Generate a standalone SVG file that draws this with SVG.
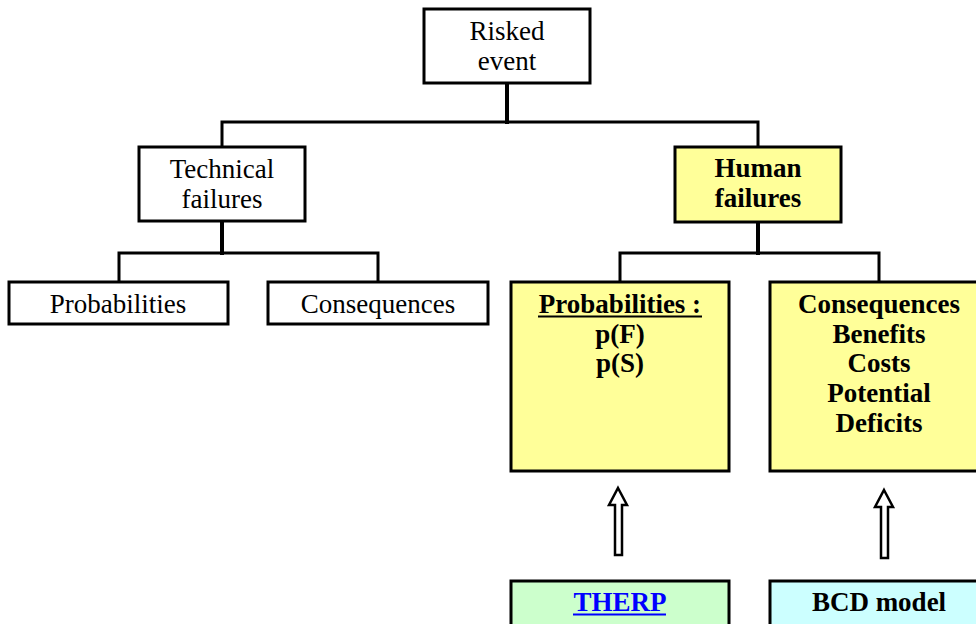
<svg xmlns="http://www.w3.org/2000/svg" width="976" height="624" viewBox="0 0 976 624">
  <style>
    .box { stroke: #000; stroke-width: 3; }
    .plain { fill: #fff; }
    .yellow { fill: #ffff99; }
    .green { fill: #ccffcc; }
    .cyan { fill: #ccffff; }
    .t { font-family: "Liberation Serif", "Times New Roman", serif; font-size: 27px; fill: #000; text-anchor: middle; }
    .b { font-weight: bold; }
    .link { fill: #0000ff; }
    .wire { fill: none; stroke: #000; stroke-width: 3; stroke-linecap: square; }
    .trunk { stroke-width: 4; }
    .hollow { fill: #fff; stroke: #000; stroke-width: 2.5; stroke-linejoin: miter; }
  </style>

  <g id="connectors">
    <path class="wire trunk" d="M507,83 V122"/>
    <path class="wire" d="M222,147 V122 H758 V147"/>
    <path class="wire trunk" d="M222,221 V253"/>
    <path class="wire" d="M119,282 V253 H378 V282"/>
    <path class="wire trunk" d="M758,222 V253"/>
    <path class="wire" d="M620,282 V253 H879 V282"/>
    <path class="hollow" d="M618,488 L627,505 L622,505 L622,555 L615,555 L615,505 L609,505 Z"/>
    <path class="hollow" d="M884,490 L893,507 L888,507 L888,558 L881,558 L881,507 L875,507 Z"/>
  </g>

  <g id="risked-event">
    <rect class="box plain" x="424" y="9" width="166" height="74"/>
    <text class="t" x="507" y="40">Risked</text>
    <text class="t" x="507" y="70">event</text>
  </g>

  <g id="technical-failures">
    <rect class="box plain" x="139" y="147" width="166" height="74"/>
    <text class="t" x="222" y="178">Technical</text>
    <text class="t" x="222" y="208">failures</text>
  </g>

  <g id="human-failures">
    <rect class="box yellow" x="675" y="147" width="166" height="75"/>
    <text class="t b" x="758" y="177">Human</text>
    <text class="t b" x="758" y="207">failures</text>
  </g>

  <g id="tech-probabilities">
    <rect class="box plain" x="9" y="282" width="219" height="42"/>
    <text class="t" x="118" y="313">Probabilities</text>
  </g>

  <g id="tech-consequences">
    <rect class="box plain" x="268" y="282" width="220" height="42"/>
    <text class="t" x="378" y="313">Consequences</text>
  </g>

  <g id="human-probabilities">
    <rect class="box yellow" x="511" y="282" width="218" height="189"/>
    <text class="t b" x="620" y="313">Probabilities :</text>
    <line x1="538" y1="316.5" x2="702" y2="316.5" stroke="#000" stroke-width="2"/>
    <text class="t b" x="620" y="343">p(F)</text>
    <text class="t b" x="620" y="372">p(S)</text>
  </g>

  <g id="human-consequences">
    <rect class="box yellow" x="770" y="282" width="218" height="189"/>
    <text class="t b" x="879" y="313">Consequences</text>
    <text class="t b" x="879" y="343">Benefits</text>
    <text class="t b" x="879" y="372">Costs</text>
    <text class="t b" x="879" y="402">Potential</text>
    <text class="t b" x="879" y="432">Deficits</text>
  </g>

  <g id="therp">
    <rect class="box green" x="511" y="581" width="218" height="50"/>
    <text class="t b link" x="620" y="611">THERP</text>
    <line x1="573" y1="614.5" x2="666" y2="614.5" stroke="#0000ff" stroke-width="2"/>
  </g>

  <g id="bcd-model">
    <rect class="box cyan" x="770" y="581" width="218" height="50"/>
    <text class="t b" x="879" y="611">BCD model</text>
  </g>
</svg>
